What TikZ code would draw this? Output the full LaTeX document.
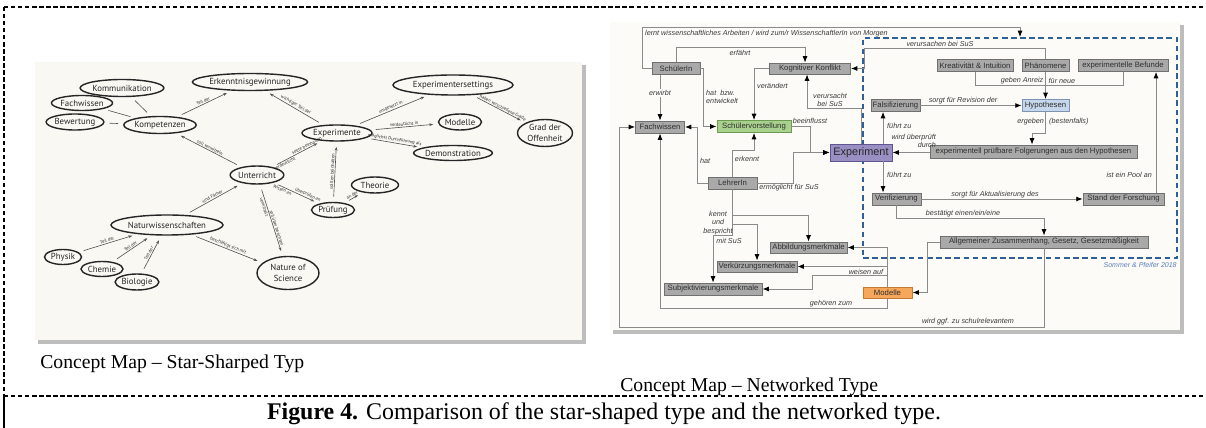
\documentclass[tikz,border=0pt]{standalone}
\usepackage{fontspec}
\setmainfont{Liberation Serif}
\newfontfamily\arialf{Liberation Sans}
\newfontfamily\handf{PT Sans}
\usetikzlibrary{shapes.geometric,arrows.meta}
\definecolor{creamL}{HTML}{FAF8F3}
\definecolor{creamR}{HTML}{FCFBF7}
\definecolor{shadowc}{HTML}{BDBDBD}
\definecolor{boxgray}{HTML}{A9A9A9}
\definecolor{boxdraw}{HTML}{707070}
\definecolor{boxtext}{HTML}{2E2E2E}
\definecolor{linegray}{HTML}{8A8A8A}
\definecolor{labtext}{HTML}{3A3A3A}
\definecolor{greenbox}{HTML}{A9D18E}
\definecolor{greendraw}{HTML}{6E9A52}
\definecolor{purplebox}{HTML}{9A8FC2}
\definecolor{purpledraw}{HTML}{5F5590}
\definecolor{bluebox}{HTML}{C6D7EC}
\definecolor{bluedraw}{HTML}{7D93B2}
\definecolor{orangebox}{HTML}{F6A75A}
\definecolor{orangedraw}{HTML}{C27A33}
\definecolor{dashblue}{HTML}{2F5F97}
\definecolor{credblue}{HTML}{5B7FB8}
\definecolor{inkc}{HTML}{262626}
\newcommand\myboxfont{\arialf\fontsize{4.4}{5}\selectfont}
\newcommand\mylabfont{\arialf\itshape\fontsize{4.1}{4.8}\selectfont}
\newcommand\myhandfont{\handf\fontsize{5}{5.8}\selectfont}
\newcommand\myhandtiny{\handf\fontsize{2.6}{3.5}\selectfont}
\begin{document}
\begin{tikzpicture}[x=0.02cm,y=-0.02cm,
  bw/.style={minimum width=#1*0.02cm},
  bh/.style={minimum height=#1*0.02cm},
  rb/.style={rectangle,draw=boxdraw,fill=boxgray,text=boxtext,inner sep=0pt,
    minimum height=0.24cm,font=\myboxfont,line width=0.5pt},
  gbox/.style={fill=greenbox,draw=greendraw},
  pbox/.style={fill=purplebox,draw=purpledraw,text=black!85,font=\arialf\fontsize{6.2}{7}\selectfont},
  bbox/.style={fill=bluebox,draw=bluedraw},
  obox/.style={fill=orangebox,draw=orangedraw},
  cl/.style={draw=linegray,line width=0.45pt},
  arr/.style={-{Latex[length=3.6pt,width=2.8pt,color=black]}},
  lab/.style={font=\mylabfont,text=labtext,inner sep=0.5pt},
  ell/.style={ellipse,draw=inkc,line width=0.8pt,inner sep=0pt,font=\myhandfont,text=inkc,align=center},
  hl/.style={draw=inkc!80,line width=0.35pt,shorten <=3pt,shorten >=3pt},
  ha/.style={hl,-{Stealth[length=2.2pt,width=1.6pt]}},
  hlab/.style={font=\myhandtiny,text=inkc,sloped,inner sep=0.5pt,midway},
  capt/.style={font=\fontsize{11.2}{13}\selectfont,anchor=west,inner sep=0pt},
]
\useasboundingbox (0,0) rectangle (1206,428);
\fill[white] (0,0) rectangle (1206,428);
% frame
\draw[black,line width=0.6pt,dash pattern=on 2.5pt off 1.5pt] (4,7) -- (1206,7);
\draw[black,line width=0.6pt,dash pattern=on 2.5pt off 1.5pt] (4,7) -- (4,396);
\draw[black,line width=0.6pt,dash pattern=on 2.5pt off 1.5pt] (4,396) -- (1206,396);
\draw[black,line width=1pt] (4,396) -- (4,428);
% captions
\node[capt] (c1) at (40,364) {Concept Map – Star-Sharped Typ};
\node[capt] (c2) at (620,387) {Concept Map – Networked Type};
\node[font=\fontsize{13.6}{15}\selectfont,inner sep=0pt] (cap) at (604,414) {\textbf{Figure 4.} Comparison of the star-shaped type and the networked type.};

% ===== left panel =====
\fill[shadowc] (38,65) rectangle (586,344);
\fill[creamL] (35,62) rectangle (582,340);
\node[ell,bw=73,bh=17] (komm) at (122,88) {Kommunikation};
\node[ell,bw=55,bh=15] (fach) at (82,103) {Fachwissen};
\node[ell,bw=57,bh=16] (bew) at (75,122) {Bewertung};
\node[ell,bw=63,bh=17] (komp) at (160,125) {Kompetenzen};
\node[ell,bw=87,bh=17] (erk) at (250,82) {Erkenntnisgewinnung};
\node[ell,bw=53,bh=18] (unt) at (257,175) {Unterricht};
\node[ell,bw=112,bh=20] (naturw) at (167,225) {Naturwissenschaften};
\node[ell,bw=37,bh=15] (physik) at (63,257) {Physik};
\node[ell,bw=42,bh=15] (chemie) at (102,269) {Chemie};
\node[ell,bw=42,bh=16] (bio) at (137,282) {Biologie};
\node[ell,bw=62,bh=33] (nos) at (288,273) {Nature of\\Science};
\node[ell,bw=70,bh=16] (expe) at (337,133) {Experimente};
\node[ell,bw=120,bh=20] (settings) at (453,85) {Experimentersettings};
\node[ell,bw=43,bh=16] (modl) at (460,122) {Modelle};
\node[ell,bw=58,bh=15] (demo) at (453,153) {Demonstration};
\node[ell,bw=47,bh=16] (theorie) at (375,185) {Theorie};
\node[ell,bw=43,bh=15] (pruef) at (333,210) {Prüfung};
\node[ell,bw=55,bh=27] (grad) at (545,133) {Grad der\\Offenheit};
\draw[hl] (komp) -- (komm);
\draw[hl] (komp) -- (fach);
\draw[hl] (komp) -- (bew);
\draw[ha] (komp) -- node[hlab,above]{Teil der} (erk);
\draw[ha] (expe) -- node[hlab,above]{wichtiger Teil der} (erk);
\draw[ha] (unt) -- node[hlab,above]{soll vermitteln} (komp);
\draw[ha] (unt) -- node[hlab,above,pos=0.72]{sollte beinhalten} node[hlab,below,pos=0.22]{verdeutlicht} (expe);
\draw[ha] (unt) -- node[hlab,above,pos=0.72]{überprüfen an} node[hlab,below,pos=0.22]{Wissen an} (pruef);
\draw[ha] (unt) -- node[hlab,above,pos=0.62]{soll über berichten} node[hlab,below,pos=0.3]{vermittelt} (nos);
\draw[ha] (naturw) -- node[hlab,above]{sind Fächer} (unt);
\draw[ha] (naturw) -- node[hlab,above]{beschäftigt sich mit} (nos);
\draw[ha] (physik) -- node[hlab,above]{Teil der} (naturw);
\draw[ha] (chemie) -- node[hlab,above]{Teil der} (naturw);
\draw[ha] (bio) -- node[hlab,above]{Teil der} (naturw);
\draw[ha] (expe) -- node[hlab,above]{umgesetzt in} (settings);
\draw[ha] (expe) -- node[hlab,above]{verdeutlicht in} (modl);
\draw[ha] (expe) -- node[hlab,above]{möglichst Durchführung als} (demo);
\draw[ha] (pruef) -- node[hlab,above]{sollten beinhalten} (expe);
\draw[ha] (pruef) -- node[hlab,above]{an der} (theorie);
\draw[ha] (settings) -- node[hlab,above,pos=0.55]{haben verschiedene Grade} (grad);

% ===== right panel =====
\fill[shadowc] (613,25) rectangle (1184,334);
\fill[creamR] (610,22) rectangle (1180,330);
\node[draw=dashblue,line width=1.1pt,dash pattern=on 3.2pt off 2pt,minimum width=314*0.02cm,minimum height=220*0.02cm,inner sep=0pt] (dbox) at (1020,148) {};
\node[anchor=north east,font=\arialf\itshape\fontsize{4}{5}\selectfont,text=credblue,inner sep=0pt] (cred) at (1177,262) {Sommer \& Pfeifer 2018};

\node[rb,bw=48] (schuelerin) at (676,68.5) {SchülerIn};
\node[rb,bw=49] (fachwissen) at (660,127) {Fachwissen};
\node[rb,gbox,bw=74] (sv) at (754,126.5) {Schülervorstellung};
\node[rb,bw=81,bh=11] (kk) at (810,68.5) {Kognitiver Konflikt};
\node[rb,pbox,bw=62,bh=17] (exp) at (861,152.5) {Experiment};
\node[rb,bw=49] (fals) at (895.5,105.5) {Falsifizierung};
\node[rb,bbox,bw=47] (hyp) at (1045.5,105.5) {Hypothesen};
\node[rb,bw=76] (krea) at (975,65.5) {Kreativität \& Intuition};
\node[rb,bw=47] (phae) at (1045.5,65.5) {Phänomene};
\node[rb,bw=90] (befunde) at (1123,65.5) {experimentelle Befunde};
\node[rb,bw=207,bh=13] (folg) at (1033.5,151.5) {experimentell prüfbare Folgerungen aus den Hypothesen};
\node[rb,bw=49] (veri) at (896.5,199) {Verifizierung};
\node[rb,bw=81] (stand) at (1123.5,199) {Stand der Forschung};
\node[rb,bw=208] (allg) at (1044,242) {Allgemeiner Zusammenhang, Gesetz, Gesetzmäßigkeit};
\node[rb,bw=49] (lehrerin) at (732.5,183) {LehrerIn};
\node[rb,bw=77,bh=11] (abb) at (808.5,247.5) {Abbildungsmerkmale};
\node[rb,bw=80,bh=11] (verk) at (757,266.5) {Verkürzungsmerkmale};
\node[rb,bw=98] (subj) at (713,289) {Subjektivierungsmerkmale};
\node[rb,obox,bw=49,bh=11] (modelle) at (887.5,292.5) {Modelle};

\draw[cl,arr] (schuelerin.west) -- (642,68.5) |- (1020,27) -- (1020,27 |- dbox.north);
\node[lab,anchor=west] (l1) at (644,34) {lernt wissenschaftliches Arbeiten / wird zum/r WissenschaftlerIn von Morgen};
\draw[cl,arr] (schuelerin.north) |- (805,47) -- (805,47 |- kk.north);
\node[lab] (l2) at (740,53) {erfährt};
\draw[cl,arr] (schuelerin.south -| fachwissen.north) -- (fachwissen.north);
\node[lab,fill=creamR] (l3) at (660,93) {erwirbt};
\draw[cl,arr] (schuelerin.east) -- (703,68.5) |- (sv.west);
\node[lab,anchor=west,align=left] (l4) at (705,97) {hat\ \ bzw.\\entwickelt};
\draw[cl,arr] (kk.west) -| (sv.north);
\node[lab,anchor=west] (l5) at (756,86) {verändert};
\draw[cl,arr] (phae.north) |- (864,48) |- (kk.east);
\node[lab] (l6) at (940,44) {verursachen bei SuS};
\draw[cl,arr] (exp.north) |- (807,108) -- (807,108 |- kk.south);
\node[lab,align=center] (l7) at (830,100) {verursacht\\bei SuS};
\draw[cl,arr] (sv.east) -- (810,126.5) |- (exp.west);
\node[lab] (l8) at (810,121) {beeinflusst};
\draw[cl,arr] (lehrerin.west) -- (697,183) |- (fachwissen.east);
\node[lab] (l9) at (705,161) {hat};
\draw[cl,arr] (lehrerin.north) |- (754,150) -- (sv.south);
\node[lab] (l10) at (747,159) {erkennt};
\draw[cl,arr] (lehrerin.east) -| (793,152.5) -- (exp.west);
\node[lab] (l11) at (789,188) {ermöglicht für SuS};
\coordinate (k1) at (732.5,215);
\coordinate (k2) at (732.5,224);
\draw[cl,arr] (lehrerin.south) -- (732.5,235) -| (subj.north);
\draw[cl,arr] (k1) -| (abb.north);
\draw[cl,arr] (k2) -| (verk.north);
\node[lab,align=center] (l12) at (718,223) {kennt\\und\\bespricht};
\node[lab] (l12b) at (729,241) {mit SuS};
\coordinate (w1) at (887.5,266.5);
\coordinate (w2) at (887.5,275);
\draw[cl,arr] (modelle.north) |- (abb.east);
\draw[cl,arr] (w1) -- (verk.east);
\draw[cl,arr] (w2) -- (812,275) |- (subj.east);
\node[lab] (l13) at (866,271.5) {weisen auf};
\draw[cl,arr] (modelle.south) -- (887.5,308) -| (fachwissen.south);
\node[lab] (l14) at (831,304) {gehören zum};
\draw[cl,arr] (allg.west) -- (927,242) |- (modelle.east);
\draw[cl,arr] (allg.south) |- (619,327) |- (fachwissen.west);
\node[lab] (l15) at (968,322) {wird ggf. zu schulrelevantem};
\draw[cl,arr] (fals.east) -- (hyp.west);
\node[lab] (l16) at (963,101) {sorgt für Revision der};
\draw[cl,arr] (883,0 |- exp.north) -- (883,0 |- fals.south);
\node[lab,anchor=west] (l17) at (886,126) {führt zu};
\draw[cl,arr] (883,0 |- exp.south) -- (883,0 |- veri.north);
\node[lab,anchor=west] (l18) at (886,175) {führt zu};
\draw[cl,arr] (folg.west |- exp.east) -- (exp.east);
\node[lab,anchor=east,align=right] (l19) at (937,141) {wird überprüft\\durch};
\draw[cl,arr] (hyp.south) |- (1032,133) -- (1032,0 |- folg.north);
\node[lab,anchor=east] (l20a) at (1045,122) {ergeben};
\node[lab,anchor=west] (l20b) at (1048,122) {(bestenfalls)};
\draw[cl,arr] (veri.east) -- (stand.west);
\node[lab] (l21) at (995,195) {sorgt für Aktualisierung des};
\draw[cl,arr] (veri.south) |- (1044,218) -- (allg.north);
\node[lab] (l22) at (963,214) {bestätigt einen/ein/eine};
\draw[cl,arr] (1156,0 |- stand.north) -- (1156,0 |- befunde.south);
\node[lab,anchor=east] (l23) at (1153,175) {ist ein Pool an};
\draw[cl] (krea.south) |- (1123,85) -- (befunde.south);
\draw[cl,arr] (phae.south) -- (hyp.north);
\node[lab,anchor=east] (l24a) at (1044.5,81) {geben Anreiz};
\node[lab,anchor=west] (l24b) at (1047.5,81) {für neue};
\end{tikzpicture}
\end{document}
